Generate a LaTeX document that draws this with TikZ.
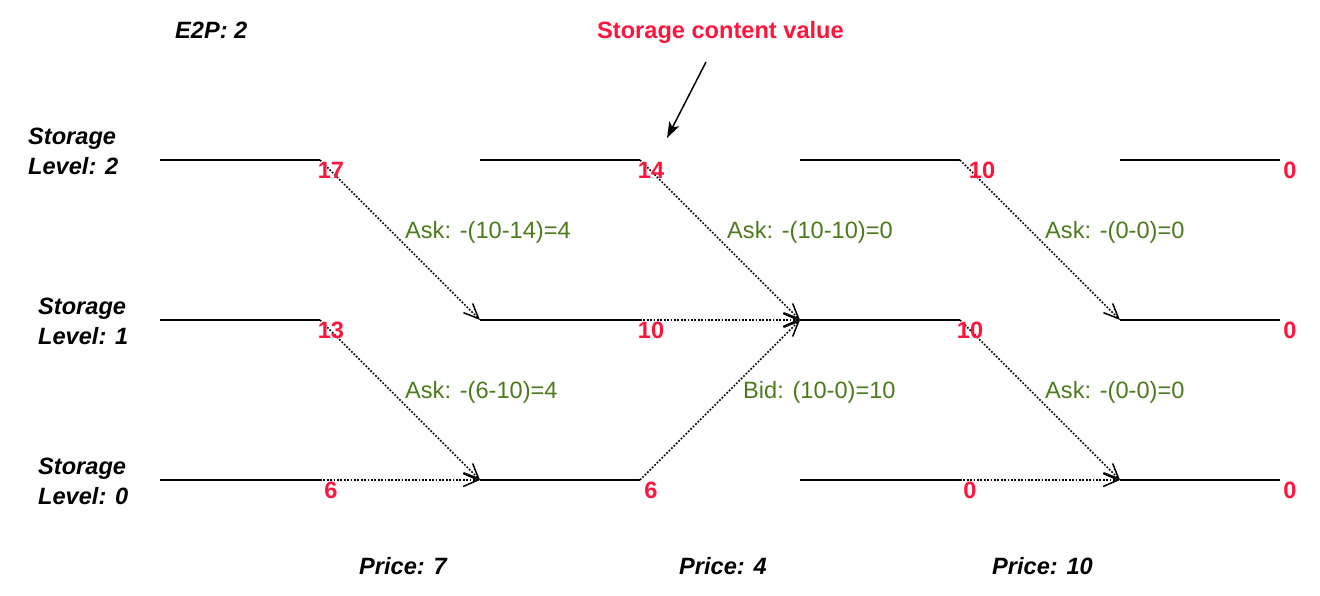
\documentclass[tikz,border=0pt]{standalone}
\usepackage{fontspec}
\setmainfont{Liberation Sans}
\usetikzlibrary{arrows.meta}
\definecolor{valred}{RGB}{255,20,60}
\definecolor{askgreen}{RGB}{77,122,29}
\begin{document}
\begin{tikzpicture}[x=1pt,y=-1pt,
  font=\fontsize{23.6}{28}\selectfont,
  seg/.style={line width=2pt},
  flow/.style={line width=1.7pt, dash pattern=on 1.7pt off 1.7pt,
    -{Straight Barb[length=15pt,width=13pt,line width=1.5pt]}},
  pointer/.style={line width=1.5pt, -{Stealth[length=16pt,width=11pt,inset=4pt]}},
  val/.style={text=valred, font=\fontsize{23.6}{28}\selectfont\bfseries, inner sep=0pt, anchor=base},
  calc/.style={text=askgreen, inner sep=0pt, anchor=base west},
  lab/.style={font=\fontsize{23.6}{28}\selectfont\bfseries\itshape, inner sep=0pt, anchor=base west},
  note/.style={text=valred, font=\fontsize{23.6}{28}\selectfont\bfseries, inner sep=0pt, anchor=base west}]
\useasboundingbox (0,0) rectangle (1320,596);

% storage level segments
\foreach \r/\y in {2/160,1/320,0/480}{
  \foreach \c/\x in {1/160,2/480,3/800,4/1120}{
    \coordinate (s\r\c) at (\x,\y);
    \coordinate (e\r\c) at (\x+160,\y);
    \draw[seg] (s\r\c) -- (e\r\c);
  }
}

% transitions
\draw[flow] (e21) -- (s12);
\draw[flow] (e11) -- (s02);
\draw[flow] (e01) -- (s02);
\draw[flow] (e22) -- (s13);
\draw[flow] (e12) -- (s13);
\draw[flow] (e02) -- (s13);
\draw[flow] (e23) -- (s14);
\draw[flow] (e13) -- (s04);
\draw[flow] (e03) -- (s04);

% storage content values
\node[val] (v21) at (331,178.5) {17};
\node[val] (v22) at (651,178.5) {14};
\node[val] (v23) at (982,178.5) {10};
\node[val] (v24) at (1290,178.5) {0};
\node[val] (v11) at (331,338.5) {13};
\node[val] (v12) at (651,338.5) {10};
\node[val] (v13) at (970,338.5) {10};
\node[val] (v14) at (1290,338.5) {0};
\node[val] (v01) at (331,498.5) {6};
\node[val] (v02) at (651,498.5) {6};
\node[val] (v03) at (970,498.5) {0};
\node[val] (v04) at (1290,498.5) {0};

% bid / ask labels
\node[calc] (c1) at (405,238.5) {Ask: -(10-14)=4};
\node[calc] (c2) at (405,398.5) {Ask: -(6-10)=4};
\node[calc] (c3) at (727,238.5) {Ask: -(10-10)=0};
\node[calc] (c4) at (743,398.5) {Bid: (10-0)=10};
\node[calc] (c5) at (1045,238.5) {Ask: -(0-0)=0};
\node[calc] (c6) at (1045,398.5) {Ask: -(0-0)=0};

% left labels
\node[lab] (e2p) at (175,38.5) {E2P: 2};
\node[lab] (l2a) at (28,144.5) {Storage};
\node[lab] (l2b) at (28,174.5) {Level: 2};
\node[lab] (l1a) at (38,314.5) {Storage};
\node[lab] (l1b) at (38,344.5) {Level: 1};
\node[lab] (l0a) at (38,474.5) {Storage};
\node[lab] (l0b) at (38,504.5) {Level: 0};

% prices
\node[lab] (p1) at (359,574.5) {Price: 7};
\node[lab] (p2) at (679,574.5) {Price: 4};
\node[lab] (p3) at (992,574.5) {Price: 10};

% annotation
\node[note] (title) at (597,38.5) {Storage content value};
\coordinate (ptrA) at (706,62);
\coordinate (ptrB) at (667,138);
\draw[pointer] (ptrA) -- (ptrB);
\end{tikzpicture}
\end{document}
